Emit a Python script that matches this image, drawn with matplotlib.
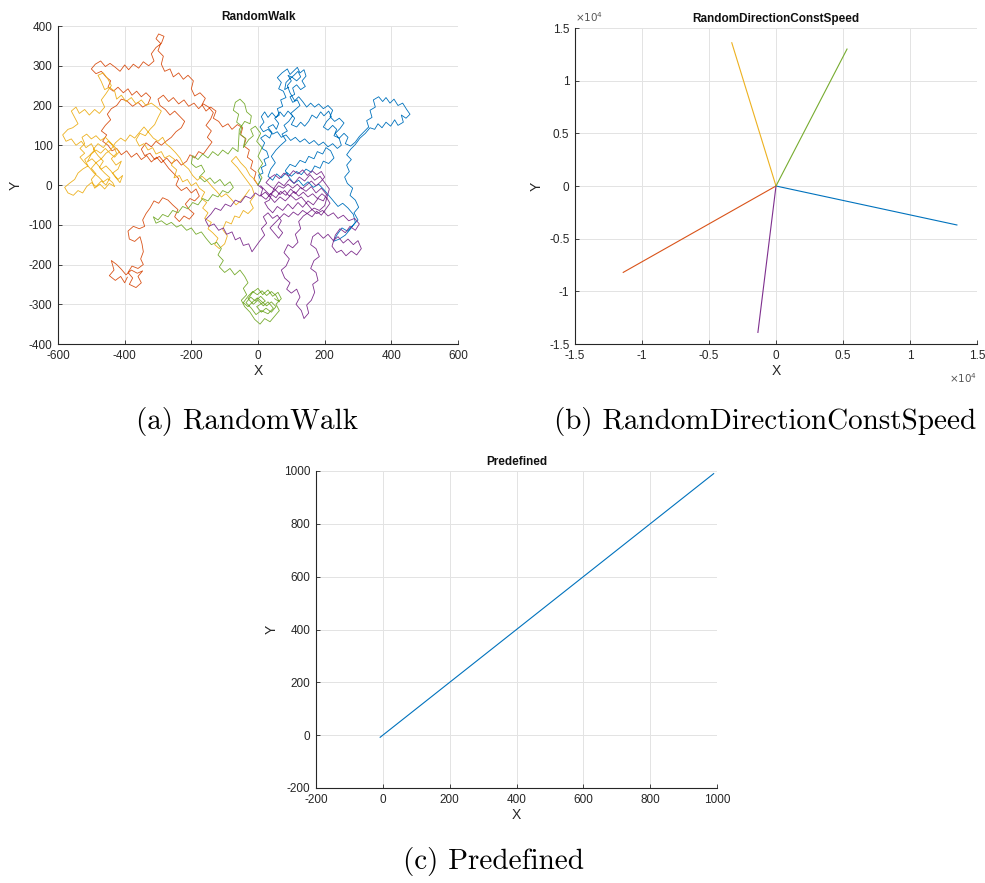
import numpy as np
from matplotlib import pyplot as plt
from matplotlib.ticker import FuncFormatter

plt.rcParams['font.family'] = ['Liberation Sans', 'DejaVu Sans']
plt.rcParams['axes.unicode_minus'] = False

# matlab default colour order
colors = ['#0072BD', '#D95319', '#EDB120', '#7E2F8E', '#77AC30']

# (a) RandomWalk
walk_blue = [(0,0),(8,12),(2,25),(15,30),(10,44),(24,50),(18,64),(32,70),(26,85),(12,92),(20,106),(8,118),(22,126),(35,118),(42,132),(30,145),(45,152),(55,140),(62,155),(50,168),(64,176),(58,192),(74,198),(68,214),(84,220),(76,236),(62,242),(70,258),(58,270),(72,282),(88,292),(96,278),(108,288),(118,296),(126,282),(138,290),(144,274),(132,262),(142,248),(128,240),(116,252),(104,244),(110,228),(96,222),(104,208),(118,214),(126,200),(112,190),(98,180),(110,168),(100,152),(116,146),(128,158),(140,148),(152,160),(162,176),(176,168),(188,184),(198,174),(212,186),(220,172),(206,160),(196,146),(210,138),(224,150),(236,140),(228,124),(244,118),(258,130),(270,120),(262,104),(278,98),(292,108),(304,122),(318,134),(332,146),(326,162),(342,170),(336,188),(352,196),(346,214),(362,222),(374,210),(384,220),(396,206),(408,216),(420,200),(434,206),(446,190),(456,178),(444,168),(430,176),(436,158),(420,150),(410,164),(398,148),(384,158),(372,144),(360,154),(350,140),(336,144),(322,130),(306,118),(292,102),(278,90),(266,76),(280,64),(266,50),(274,34),(260,20),(268,4),(284,-8),(276,-26),(292,-38),(302,-56),(288,-70),(300,-88),(284,-102),(268,-116),(252,-108),(238,-124),(226,-142),(244,-136),(262,-126),(278,-110),(292,-94),(286,-74),(270,-58),(254,-46),(240,-54),(226,-40),(212,-26),(198,-12),(182,2),(166,-6),(150,8),(136,-2),(122,12),(108,4),(94,18),(82,36),(96,52),(112,46),(126,62),(142,56),(152,72),(168,66),(178,84),(194,78),(204,94),(218,86),(228,68),(212,54),(196,60),(186,42),(170,48),(160,32),(144,40),(130,26),(116,34),(100,22),(86,32),(70,18),(56,28),(44,12),(30,22),(38,40),(52,56),(40,72),(54,88),(68,100),(84,112),(72,128),(88,136),(78,150),(92,160),(104,174),(90,186),(78,172),(66,184),(54,170),(42,182),(30,170),(20,184),(10,172),(18,158),(6,146),(16,134),(30,140),(44,128),(58,134),(70,120),(84,126),(98,112),(112,120),(126,108),(140,116),(154,104),(168,112),(182,100),(196,108),(210,96),(224,104),(238,92),(250,100),(244,116),(232,130),(246,142),(258,156),(244,168),(230,160),(216,172),(224,188),(210,200),(196,192),(182,204),(170,196),(158,206),(146,196),(134,210),(122,222),(110,212),(96,232),(88,250),(100,262),(90,276),(104,270),(116,262),(128,272),(120,286),(108,276),(96,268),(84,258),(80,240),(92,246)]

walk_red = [(0,0),(-12,14),(-6,32),(-22,42),(-16,60),(-32,70),(-26,88),(-42,98),(-36,116),(-52,126),(-46,144),(-62,152),(-78,140),(-90,154),(-106,146),(-118,160),(-134,168),(-126,186),(-142,196),(-156,186),(-168,202),(-158,218),(-174,232),(-190,224),(-200,242),(-194,262),(-210,276),(-224,266),(-238,282),(-254,272),(-264,292),(-280,286),(-290,304),(-284,324),(-300,338),(-292,356),(-306,368),(-298,380),(-282,374),(-290,356),(-306,346),(-320,330),(-312,312),(-328,300),(-344,310),(-358,294),(-374,304),(-388,290),(-400,302),(-414,286),(-428,296),(-444,306),(-458,298),(-472,312),(-488,304),(-500,292),(-486,280),(-470,286),(-456,272),(-442,262),(-450,246),(-434,236),(-420,246),(-404,232),(-390,242),(-378,226),(-364,236),(-350,222),(-336,232),(-322,220),(-330,204),(-346,196),(-360,208),(-376,198),(-394,212),(-410,216),(-424,200),(-440,192),(-452,178),(-442,164),(-458,150),(-470,136),(-454,126),(-466,110),(-450,100),(-438,86),(-424,92),(-410,76),(-394,86),(-380,70),(-364,80),(-350,64),(-334,74),(-320,58),(-304,70),(-290,56),(-274,68),(-260,54),(-244,64),(-230,50),(-214,60),(-204,76),(-190,68),(-178,84),(-164,78),(-150,94),(-138,108),(-152,120),(-140,136),(-156,150),(-142,166),(-134,182),(-148,196),(-164,204),(-178,192),(-192,206),(-208,198),(-222,214),(-238,204),(-254,220),(-268,210),(-284,226),(-300,216),(-294,200),(-278,190),(-264,176),(-250,186),(-234,172),(-220,160),(-230,144),(-246,134),(-260,120),(-276,110),(-290,100),(-306,110),(-320,96),(-336,106),(-350,90),(-340,74),(-324,80),(-310,64),(-296,72),(-282,58),(-268,42),(-254,30),(-238,16),(-246,0),(-230,-14),(-214,-6),(-200,-20),(-186,-10),(-176,-28),(-190,-40),(-204,-34),(-218,-48),(-206,-62),(-192,-72),(-206,-86),(-222,-78),(-236,-92),(-250,-80),(-240,-62),(-256,-50),(-270,-38),(-286,-32),(-298,-46),(-312,-40),(-324,-58),(-336,-72),(-346,-88),(-340,-104),(-356,-110),(-374,-104),(-390,-116),(-386,-136),(-370,-142),(-354,-130),(-348,-148),(-344,-168),(-352,-186),(-344,-200),(-360,-210),(-378,-204),(-390,-220),(-376,-234),(-386,-250),(-366,-258),(-350,-246),(-360,-230),(-346,-216),(-362,-222),(-380,-214),(-396,-226),(-410,-212),(-424,-200),(-440,-190),(-432,-214),(-446,-228),(-428,-240),(-412,-230),(-400,-246),(-392,-232)]

walk_yellow = [(0,0),(-10,14),(-24,24),(-36,42),(-52,56),(-66,72),(-80,60),(-62,44),(-48,28),(-32,10),(-18,-6),(-10,-26),(-24,-42),(-14,-58),(-30,-72),(-44,-64),(-56,-82),(-70,-78),(-80,-98),(-96,-92),(-106,-112),(-92,-128),(-100,-148),(-116,-160),(-130,-150),(-120,-134),(-136,-120),(-150,-110),(-140,-94),(-160,-84),(-150,-70),(-166,-58),(-154,-44),(-170,-34),(-160,-18),(-176,-8),(-186,6),(-200,-2),(-212,14),(-226,8),(-236,24),(-252,18),(-244,38),(-260,50),(-250,64),(-266,74),(-280,68),(-290,84),(-306,78),(-316,94),(-330,88),(-342,104),(-356,98),(-366,114),(-354,130),(-338,124),(-324,140),(-310,152),(-300,170),(-290,186),(-304,196),(-320,206),(-336,200),(-350,214),(-366,204),(-380,220),(-396,210),(-410,226),(-424,216),(-430,236),(-446,246),(-460,240),(-470,260),(-480,276),(-464,282),(-450,266),(-440,250),(-456,230),(-470,214),(-460,196),(-476,180),(-490,190),(-506,176),(-520,190),(-536,180),(-546,196),(-560,186),(-550,170),(-540,154),(-556,144),(-570,140),(-586,126),(-576,110),(-560,116),(-546,100),(-530,110),(-516,94),(-500,104),(-490,88),(-506,74),(-520,64),(-510,48),(-526,40),(-540,30),(-550,14),(-566,4),(-580,-6),(-570,-20),(-554,-26),(-540,-14),(-526,-20),(-514,-4),(-500,6),(-486,-4),(-470,10),(-456,0),(-444,18),(-460,30),(-476,44),(-464,60),(-480,74),(-494,90),(-480,104),(-464,94),(-450,110),(-436,100),(-424,80),(-440,66),(-426,50),(-410,60),(-420,40),(-436,30),(-420,14),(-406,24),(-414,6),(-428,20),(-442,36),(-456,48),(-470,40),(-484,54),(-498,66),(-512,58),(-500,78),(-486,88),(-472,80),(-458,92),(-444,80),(-430,70),(-416,84),(-430,96),(-444,108),(-458,120),(-472,112),(-486,124),(-500,116),(-514,128),(-528,120),(-520,104),(-534,92),(-520,80),(-534,70),(-520,56),(-506,44),(-492,30),(-478,20),(-464,8),(-450,16),(-436,6),(-430,-4),(-446,4),(-460,-10),(-474,2),(-490,-8),(-500,14),(-486,28),(-500,42),(-486,56),(-470,66),(-456,80),(-442,88),(-428,106),(-412,118),(-398,110),(-384,126),(-370,118),(-356,132),(-342,146),(-328,132),(-314,118),(-300,110),(-286,120),(-276,104),(-262,94),(-248,82),(-234,68),(-224,52),(-208,40),(-196,24),(-182,12),(-168,22),(-152,10),(-138,-4),(-124,-16),(-110,-30),(-96,-22),(-80,-36),(-66,-50),(-52,-40),(-38,-26),(-26,-12)]

walk_purple = [(0,0),(14,-10),(8,-26),(24,-36),(38,-22),(54,-32),(68,-16),(84,-26),(98,-10),(112,-22),(128,-6),(144,-16),(160,-4),(174,-20),(190,-8),(206,-24),(196,-40),(180,-34),(166,-50),(150,-40),(134,-56),(120,-44),(104,-60),(90,-48),(74,-64),(58,-54),(44,-70),(30,-58),(20,-44),(34,-38),(48,-8),(62,8),(78,-2),(94,14),(108,4),(124,20),(140,10),(156,26),(170,12),(186,22),(200,6),(214,-10),(200,-52),(184,-64),(168,-58),(150,-70),(136,-78),(122,-92),(128,-110),(112,-124),(120,-144),(104,-158),(90,-150),(78,-170),(94,-186),(84,-204),(70,-214),(80,-234),(96,-246),(86,-262),(100,-272),(116,-262),(126,-282),(114,-300),(130,-316),(138,-336),(152,-322),(146,-302),(160,-290),(170,-270),(164,-250),(180,-240),(174,-220),(158,-210),(168,-190),(184,-180),(174,-160),(158,-150),(164,-130),(180,-120),(196,-134),(210,-124),(226,-140),(240,-130),(256,-146),(270,-136),(286,-150),(300,-140),(310,-160),(296,-176),(280,-166),(264,-178),(250,-164),(236,-170),(222,-154),(232,-126),(246,-110),(262,-120),(276,-104),(292,-114),(304,-98),(290,-84),(272,-90),(256,-76),(240,-84),(226,-70),(210,-78),(194,-64),(176,-72),(160,-60),(146,-46),(130,-30),(114,-38),(98,-26),(82,-40),(66,-30),(50,-44),(36,-30),(22,-18),(6,-28),(-8,-20),(-22,-34),(-38,-28),(-52,-44),(-68,-38),(-82,-54),(-98,-48),(-112,-64),(-128,-58),(-142,-74),(-158,-88),(-148,-104),(-132,-98),(-118,-114),(-104,-108),(-94,-124),(-78,-118),(-68,-138),(-54,-132),(-44,-152),(-28,-148),(-18,-168),(-6,-154),(6,-140),(20,-126),(10,-110),(26,-96),(16,-80),(30,-70),(44,-84),(58,-76),(70,-90),(60,-106),(74,-120),(62,-134),(48,-120),(36,-108),(50,-96),(64,-84),(78,-72),(92,-80),(106,-68),(120,-76),(134,-64),(148,-72),(162,-80),(176,-66),(190,-76),(204,-60),(216,-46),(206,-32),(192,-22),(178,-34),(164,-22),(150,-30),(136,-18),(122,-28),(108,-16),(94,-28),(80,-14),(66,-24),(52,-12),(38,-4),(24,6),(36,18),(50,26),(64,16),(78,30),(92,22),(106,36),(120,28),(134,38),(148,24),(162,36),(176,26),(190,34),(200,20),(188,8),(174,-2),(160,10),(146,0),(132,-10),(118,2),(104,-8),(90,2),(76,-8),(62,-2),(48,-16),(34,-24),(20,-12),(8,-2)]

walk_green = [(0,0),(12,18),(0,36),(14,54),(0,72),(12,94),(-4,110),(8,130),(-8,148),(-22,140),(-14,124),(-28,114),(-44,94),(-38,118),(-54,128),(-48,148),(-64,158),(-58,178),(-74,188),(-68,208),(-54,216),(-40,204),(-34,184),(-20,174),(-24,154),(-40,160),(-56,140),(-60,84),(-76,94),(-90,78),(-106,88),(-120,74),(-136,84),(-150,68),(-166,78),(-180,64),(-196,74),(-200,54),(-186,44),(-170,50),(-160,34),(-176,20),(-160,8),(-144,18),(-130,4),(-114,14),(-100,-2),(-84,8),(-74,-6),(-90,-20),(-106,-14),(-120,-30),(-136,-24),(-150,-40),(-166,-34),(-180,-50),(-196,-44),(-210,-60),(-226,-54),(-240,-70),(-256,-64),(-270,-80),(-286,-74),(-300,-88),(-314,-80),(-306,-96),(-290,-90),(-274,-100),(-260,-94),(-244,-106),(-230,-100),(-214,-114),(-200,-108),(-186,-124),(-170,-118),(-156,-134),(-140,-150),(-124,-144),(-110,-160),(-120,-176),(-104,-190),(-116,-206),(-100,-220),(-84,-210),(-70,-226),(-54,-214),(-40,-230),(-30,-246),(-44,-260),(-34,-276),(-50,-290),(-40,-306),(-24,-320),(-10,-338),(6,-350),(20,-336),(36,-344),(50,-330),(64,-316),(54,-300),(70,-286),(60,-270),(44,-280),(30,-264),(14,-276),(0,-260),(-16,-270),(-30,-286),(-14,-300),(0,-290),(16,-304),(30,-294),(46,-310),(30,-324),(10,-316),(-6,-326),(-20,-310),(-36,-296),(-22,-282),(-8,-292),(8,-280),(22,-292),(-4,-306),(10,-320),(24,-310),(40,-320),(54,-306),(40,-294),(26,-304),(12,-294),(-2,-284),(-16,-294),(-30,-306),(-44,-296),(-30,-280),(-16,-268),(-2,-276),(12,-266),(26,-278),(40,-268),(54,-278),(64,-294),(50,-286)]

walks = [walk_blue, walk_red, walk_yellow, walk_purple, walk_green]

# (b) RandomDirectionConstSpeed - end points of the straight tracks, all start at 0,0
rdcs_end_x = [13500, -11400, -3300, -1350, 5300]
rdcs_end_y = [-3700, -8200, 13600, -13900, 13000]

# (c) Predefined
pre_x = [-8, 990]
pre_y = [-8, 990]

axis_col = '#262626'


def style_axes(ax, title):
    for s in ['top', 'right']:
        ax.spines[s].set_visible(False)
    for s in ['left', 'bottom']:
        ax.spines[s].set_color(axis_col)
        ax.spines[s].set_linewidth(0.8)
    ax.tick_params(direction='in', length=3, width=0.6, labelsize=8.5,
                   colors=axis_col, pad=4)
    ax.grid(True, color='#e3e3e3', linewidth=0.7)
    ax.set_axisbelow(True)
    ax.set_title(title, fontsize=8.5, fontweight='bold', pad=4, color='#111111')
    ax.set_xlabel('X', fontsize=10, color=axis_col, labelpad=2)
    ax.set_ylabel('Y', fontsize=10, color=axis_col, labelpad=4)


fig = plt.figure(figsize=(9.85, 8.83), dpi=100)

# (a)
ax1 = fig.add_axes([58/985, 1-344/883, 400/985, 318/883])
for w, c in zip(walks, colors):
    pts = np.array(w)
    ax1.plot(pts[:, 0], pts[:, 1], color=c, linewidth=0.6)
ax1.set_xlim(-600, 600)
ax1.set_ylim(-400, 400)
ax1.set_xticks(np.arange(-600, 601, 200))
ax1.set_yticks(np.arange(-400, 401, 100))
style_axes(ax1, 'RandomWalk')

# (b)
ax2 = fig.add_axes([575/985, 1-344/883, 402/985, 316/883])
for ex, ey, c in zip(rdcs_end_x, rdcs_end_y, colors):
    ax2.plot([0, ex], [0, ey], color=c, linewidth=0.8)
ax2.set_xlim(-15000, 15000)
ax2.set_ylim(-15000, 15000)
ticks = np.arange(-15000, 15001, 5000)
ax2.set_xticks(ticks)
ax2.set_yticks(ticks)
fmt = FuncFormatter(lambda v, p: '%g' % (v / 1e4))
ax2.xaxis.set_major_formatter(fmt)
ax2.yaxis.set_major_formatter(fmt)
style_axes(ax2, 'RandomDirectionConstSpeed')
ax2.text(0.0, 1.012, r'$\times10^{4}$', transform=ax2.transAxes, fontsize=7.5,
         color='#555555', ha='left', va='bottom')
ax2.text(1.0, -0.085, r'$\times10^{4}$', transform=ax2.transAxes, fontsize=7.5,
         color='#555555', ha='right', va='top')

# (c)
ax3 = fig.add_axes([316/985, 1-788/883, 401/985, 317/883])
ax3.plot(pre_x, pre_y, color=colors[0], linewidth=0.8)
ax3.set_xlim(-200, 1000)
ax3.set_ylim(-200, 1000)
ax3.set_xticks(np.arange(-200, 1001, 200))
ax3.set_yticks(np.arange(-200, 1001, 200))
style_axes(ax3, 'Predefined')

# captions
cap = dict(fontsize=21, family='cmr10', ha='center', va='center', color='black')
fig.text(247/985, 1-421/883, '(a) RandomWalk', **cap)
fig.text(765/985, 1-421/883, '(b) RandomDirectionConstSpeed', **cap)
fig.text(493/985, 1-862/883, '(c) Predefined', **cap)

fig.savefig('out.png', dpi=100)
